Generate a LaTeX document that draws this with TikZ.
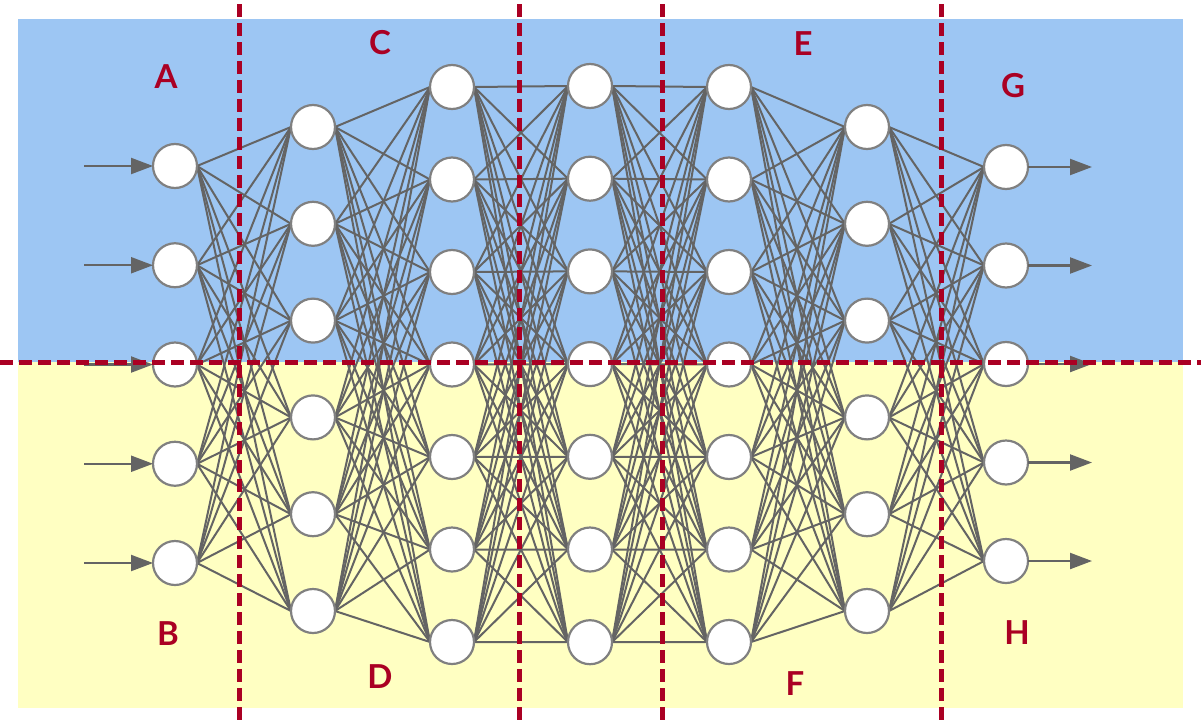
\documentclass[tikz,border=0pt]{standalone}
\usepackage{fontspec}
\setmainfont{Lato}
\usetikzlibrary{arrows.meta}
\definecolor{bgblue}{RGB}{157,198,243}
\definecolor{bgyellow}{RGB}{255,255,194}
\definecolor{edgegray}{RGB}{100,100,100}
\definecolor{nodegray}{RGB}{128,128,128}
\definecolor{darkred}{RGB}{170,0,35}
\pgfdeclarelayer{bglayer}
\pgfdeclarelayer{edgelayer}
\pgfsetlayers{bglayer,edgelayer,main}
\tikzset{
  neuron/.style={circle,draw=nodegray,fill=white,line width=2.2pt,minimum size=44pt,inner sep=0pt,outer sep=0pt},
  edge/.style={draw=edgegray,line width=2pt},
  ioarrow/.style={draw=edgegray,line width=2.2pt,-{Triangle[length=22pt,width=16pt]}},
  divider/.style={draw=darkred,line width=5pt,dash pattern=on 13pt off 6pt},
  lbl/.style={text=darkred,font=\fontsize{33}{33}\selectfont\bfseries,inner sep=0pt}
}
\begin{document}
\begin{tikzpicture}[x=1pt,y=-1pt]
\useasboundingbox (0,0) rectangle (1201,720);
\begin{pgfonlayer}{bglayer}
\fill[bgblue] (18,19) rectangle (1183,362);
\fill[bgyellow] (18,362) rectangle (1183,708);
\end{pgfonlayer}
% neurons
\foreach \l/\x/\n/\top/\sp in {1/175/5/166/99.25, 2/313/6/127/96.8, 3/452/7/87/92.5, 4/590/7/86/92.7, 5/729/7/87/92.5, 6/867/6/127/96.8, 7/1006/5/167/98.5}{
  \foreach \i in {1,...,\n}{
    \node[neuron] (n\l-\i) at (\x,{\top+(\i-1)*\sp}) {};
  }
}
% edges
\begin{pgfonlayer}{edgelayer}
\foreach \l/\m/\a/\b in {1/2/5/6, 2/3/6/7, 3/4/7/7, 4/5/7/7, 5/6/7/6, 6/7/6/5}{
  \foreach \i in {1,...,\a}{
    \foreach \j in {1,...,\b}{
      \draw[edge] (n\l-\i.east) -- (n\m-\j.west);
    }
  }
}
\end{pgfonlayer}
% input and output arrows
\foreach \i in {1,...,5}{
  \coordinate (in\i) at (84,{166+(\i-1)*99.25});
  \draw[ioarrow] (in\i) -- (n1-\i.west);
  \coordinate (out\i) at (1092,{167+(\i-1)*98.5});
  \draw[ioarrow] (n7-\i.east) -- (out\i);
}
% dividers
\coordinate (v1t) at (239,4); \coordinate (v1b) at (239,720);
\coordinate (v2t) at (519,4); \coordinate (v2b) at (519,720);
\coordinate (v3t) at (662,4); \coordinate (v3b) at (662,720);
\coordinate (v4t) at (941,4); \coordinate (v4b) at (941,720);
\coordinate (hl) at (0,362); \coordinate (hr) at (1201,362);
\draw[divider] (hl) -- (hr);
\foreach \k in {1,2,3,4}{\draw[divider] (v\k t) -- (v\k b);}
% labels
\node[lbl] (A) at (166,77) {A};
\node[lbl] (B) at (168,634) {B};
\node[lbl] (C) at (380,43) {C};
\node[lbl] (D) at (380,677) {D};
\node[lbl] (E) at (803,44) {E};
\node[lbl] (F) at (795,684) {F};
\node[lbl] (G) at (1013,86) {G};
\node[lbl] (H) at (1017,633) {H};
\end{tikzpicture}
\end{document}
